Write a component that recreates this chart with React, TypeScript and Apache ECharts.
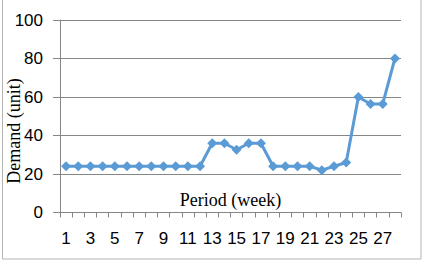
import React, { useEffect, useRef } from "react";
import * as echarts from "echarts";

const periods: string[] = Array.from({ length: 28 }, (_, i) => String(i + 1));
const demand: number[] = [
  24, 24, 24, 24, 24, 24, 24, 24, 24, 24, 24, 24,
  36, 36, 32.6, 36, 36, 24, 24, 24, 24, 22, 24, 26,
  60, 56.4, 56.4, 80,
];
const yTitle = "Demand (unit)";
const xTitle = "Period (week)";

export default function App() {
  const ref = useRef<HTMLDivElement>(null);
  useEffect(() => {
    if (!ref.current) return;
    const chart = echarts.init(ref.current, undefined, { renderer: "svg" });
    const gray = "#868686";
    chart.setOption({
      animation: false,
      backgroundColor: "#ffffff",
      grid: { left: 60, right: 27, top: 20, bottom: 53.5, containLabel: false },
      graphic: [
        {
          type: "rect",
          shape: { x: 2.5, y: -5, width: 418.5, height: 264 },
          style: { fill: "none", stroke: "#b4b4b4", lineWidth: 1 },
          silent: true,
        },
        {
          type: "text",
          x: 14,
          y: 131,
          rotation: Math.PI / 2,
          style: {
            text: yTitle,
            font: "18px 'Liberation Serif'",
            fill: "#000",
            align: "center",
            verticalAlign: "middle",
          },
        },
        {
          type: "text",
          x: 230.5,
          y: 200,
          style: {
            text: xTitle,
            font: "18px 'Liberation Serif'",
            fill: "#000",
            align: "center",
            verticalAlign: "middle",
          },
        },
      ],
      xAxis: {
        type: "category",
        data: periods,
        boundaryGap: true,
        axisLine: { show: true, lineStyle: { color: gray, width: 1 } },
        axisTick: { show: true, length: 5, alignWithLabel: false, interval: 0, lineStyle: { color: gray } },
        axisLabel: {
          interval: 1,
          margin: 17,
          fontSize: 17,
          fontFamily: "Liberation Sans",
          color: "#000",
        },
        splitLine: { show: false },
      },
      yAxis: {
        type: "value",
        min: 0,
        max: 100,
        interval: 20,
        axisLine: { show: true, lineStyle: { color: gray, width: 1 } },
        axisTick: { show: true, length: 7, lineStyle: { color: gray } },
        axisLabel: {
          margin: 17,
          fontSize: 17,
          fontFamily: "Liberation Sans",
          color: "#000",
        },
        splitLine: { show: true, lineStyle: { color: gray, width: 1 } },
      },
      series: [
        {
          type: "line",
          data: demand,
          symbol: "diamond",
          symbolSize: 10,
          showAllSymbol: true,
          clip: false,
          itemStyle: { color: "#5b9bd5" },
          lineStyle: { color: "#5b9bd5", width: 3 },
        },
      ],
    });
    return () => chart.dispose();
  }, []);
  return (
    <div
      ref={ref}
      style={{ position: "fixed", left: 0, top: 0, width: 428, height: 266 }}
    />
  );
}
